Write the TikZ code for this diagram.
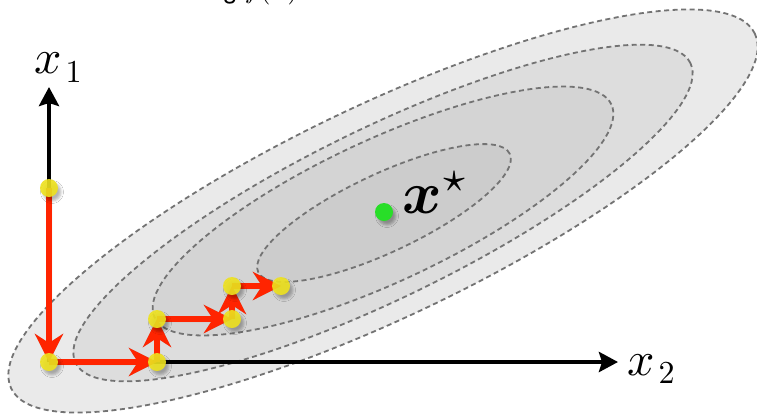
\documentclass[tikz,border=0pt]{standalone}
\usepackage{amsmath}
\usepackage{graphicx}
\usepackage[no-math]{fontspec}
\newfontfamily\heros{TeX Gyre Heros}
\usetikzlibrary{arrows.meta,shadows.blur}
\definecolor{eone}{RGB}{234,234,234}
\definecolor{etwo}{RGB}{221,221,221}
\definecolor{ethree}{RGB}{212,212,212}
\definecolor{efour}{RGB}{204,204,204}
\definecolor{dashc}{RGB}{115,115,115}
\definecolor{redc}{RGB}{255,36,0}
\definecolor{yellowc}{RGB}{238,226,30}
\definecolor{greenc}{RGB}{40,222,40}
\begin{document}
\begin{tikzpicture}[x=1pt,y=-1pt,
  contour/.style={draw=dashc, line width=1.8pt, dash pattern=on 5pt off 3.5pt},
  axisar/.style={line width=4pt, draw=black, -{Stealth[length=19pt,width=20pt,inset=3pt]}},
  stepar/.style={line width=6pt, draw=redc, -{Stealth[length=28pt,width=28pt,inset=9pt]}},
  dot/.style={circle, inner sep=0pt, minimum size=18pt, fill=yellowc, fill opacity=0.9,
    blur shadow={shadow xshift=3pt, shadow yshift=-4pt, shadow blur radius=2.5pt, shadow opacity=32}},
  gdot/.style={circle, inner sep=0pt, minimum size=18pt, fill=greenc,
    blur shadow={shadow xshift=3pt, shadow yshift=-4pt, shadow blur radius=2.5pt, shadow opacity=32}},
  lab/.style={anchor=base west, inner sep=0pt}
]
\fill[white] (0,0) rectangle (757,416);
\useasboundingbox (0,0) rectangle (757,416);

% contours
\path[contour, fill=eone, rotate around={25.5:(383,211)}] (383,211) ellipse [x radius=412pt, y radius=106pt];
\path[contour, fill=etwo, rotate around={26:(383,213)}] (383,213) ellipse [x radius=342pt, y radius=85pt];
\path[contour, fill=ethree, rotate around={25:(383,211)}] (383,211) ellipse [x radius=252pt, y radius=71pt];
\path[contour, fill=efour, rotate around={25.2:(384,213)}] (384,213) ellipse [x radius=139pt, y radius=39pt];

% title (clipped at top, as in the reference)
\node[anchor=base east, inner sep=0pt] (title) at (298,-2) {\scalebox{2.6}{\normalsize\heros Minimizing $f(\boldsymbol{x})$}};

% coordinates
\coordinate (o) at (49,362);
\coordinate (x1end) at (49,87);
\coordinate (x2end) at (618,362);
\coordinate (p0) at (49,188);
\coordinate (p1) at (49,362);
\coordinate (p2) at (157,362);
\coordinate (p3) at (157,319);
\coordinate (p4) at (232,319);
\coordinate (p5) at (232,286);
\coordinate (p6) at (281,286);

% axes
\draw[axisar] (o) -- (x1end);
\draw[axisar] (o) -- (x2end);
\node[lab] (lx1) at (34,73) {\scalebox{4.8}{\normalsize$x$}\hspace{4pt}\raisebox{-9pt}{\scalebox{3.2}{\normalsize 1}}};
\node[lab] (lx2) at (627,375) {\scalebox{4.8}{\normalsize$x$}\hspace{4pt}\raisebox{-8pt}{\scalebox{3.2}{\normalsize 2}}};

% arrow shadows
\begin{scope}[transparency group, opacity=0.2, xshift=2pt, yshift=-3pt]
  \draw[stepar, draw=black] (p0) -- (p1);
  \draw[stepar, draw=black] (p1) -- (p2);
  \draw[stepar, draw=black] (p2) -- (p3);
  \draw[stepar, draw=black] (p3) -- (p4);
  \draw[stepar, draw=black] (p4) -- (p5);
  \draw[stepar, draw=black] (p5) -- (p6);
\end{scope}

% steps
\draw[stepar] (p0) -- (p1);
\draw[stepar] (p1) -- (p2);
\draw[stepar] (p2) -- (p3);
\draw[stepar] (p3) -- (p4);
\draw[stepar] (p4) -- (p5);
\draw[stepar] (p5) -- (p6);

% dots
\node[dot] (d0) at (p0) {};
\node[dot] (d1) at (p1) {};
\node[dot] (d2) at (p2) {};
\node[dot] (d3) at (p3) {};
\node[dot] (d4) at (p4) {};
\node[dot] (d5) at (p5) {};
\node[dot] (d6) at (p6) {};

% optimum
\node[gdot] (opt) at (384,212) {};
\node[lab] (lopt) at (402,213) {\scalebox{6.0}{\normalsize$\boldsymbol{x}^{\star}$}};
\end{tikzpicture}
\end{document}
